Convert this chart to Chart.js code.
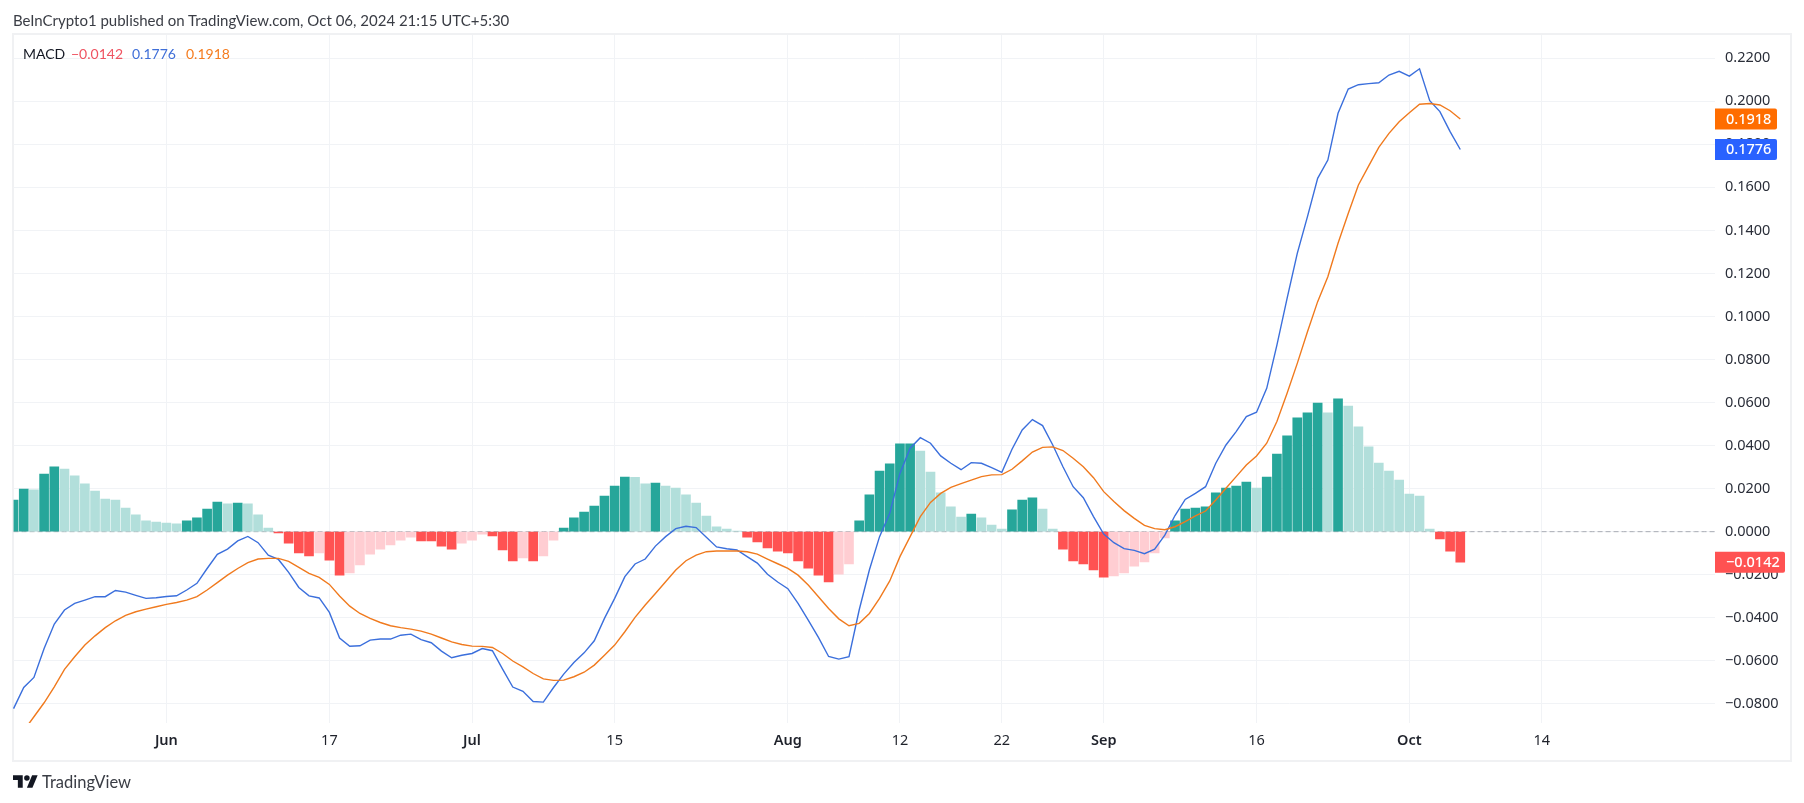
<!DOCTYPE html>
<html>
<head>
<meta charset="utf-8">
<title>MACD</title>
<script src="https://cdn.jsdelivr.net/npm/chart.js@4"></script>
<style>
  html, body { margin: 0; padding: 0; background: #fff; width: 1804px; height: 803px; overflow: hidden; }
  body { font-family: Lato, sans-serif; position: relative; }
  #frame { position: absolute; left: 12px; top: 33px; width: 1776px; height: 725px; border: 2px solid #f0f1f3; }
  #chart { position: absolute; left: 0; top: 0; }
  #published { position: absolute; left: 13px; top: 8px; font-size: 15px; line-height: 24px; color: #3a3d45; white-space: nowrap; }
  #legend span { position: absolute; top: 43px; font-size: 14px; line-height: 21px; white-space: nowrap; }
  #footer { position: absolute; left: 42px; top: 770px; font-size: 16.500px; line-height: 24px; color: #3a3d45; }
  #logo { position: absolute; left: 13px; top: 775px; }
</style>
</head>
<body>
<div id="frame"></div>
<canvas id="chart" width="1804" height="803"></canvas>
<div id="published">BeInCrypto1 published on TradingView.com, Oct 06, 2024 21:15 UTC+5:30</div>
<div id="legend">
  <span style="left:23px;color:#131722">MACD</span><span style="left:71px;color:#ef5361">−0.0142</span><span style="left:132px;color:#3f6fd8">0.1776</span><span style="left:186px;color:#f57c1f">0.1918</span>
</div>
<svg id="logo" width="25" height="13" viewBox="0 0 36 18"><path fill="#131722" d="M14 18H7V7H0V0h14v18zM28 18h-8L27.500 0h8L28 18z"/><circle fill="#131722" cx="20" cy="4" r="4"/></svg>
<div id="footer">TradingView</div>
<script>
const monthSpans = [['May', 17, 31], ['Jun', 1, 30], ['Jul', 1, 31], ['Aug', 1, 31], ['Sep', 1, 30], ['Oct', 1, 31]];

const histogram = [
  0.0147, 0.0198, 0.0194, 0.0268, 0.0301, 0.0291, 0.0259, 0.0222, 0.0189, 0.0152,
  0.0147, 0.0110, 0.0078, 0.0050, 0.0045, 0.0040, 0.0036, 0.0050, 0.0064, 0.0105,
  0.0138, 0.0129, 0.0133, 0.0129, 0.0078, 0.0017, -0.0006, -0.0053, -0.0099, -0.0113,
  -0.0099, -0.0132, -0.0202, -0.0192, -0.0155, -0.0104, -0.0081, -0.0062, -0.0039, -0.0025,
  -0.0043, -0.0043, -0.0067, -0.0081, -0.0053, -0.0039, -0.0011, -0.0020, -0.0085, -0.0136,
  -0.0122, -0.0136, -0.0113, -0.0039, 0.0017, 0.0064, 0.0091, 0.0119, 0.0166, 0.0212,
  0.0254, 0.0253, 0.0222, 0.0226, 0.0212, 0.0203, 0.0171, 0.0133, 0.0073, 0.0022,
  0.0012, 0.0002, -0.0025, -0.0048, -0.0076, -0.0090, -0.0099, -0.0136, -0.0169, -0.0202,
  -0.0234, -0.0197, -0.0150, 0.0050, 0.0171, 0.0282, 0.0315, 0.0408, 0.0408, 0.0375,
  0.0277, 0.0180, 0.0115, 0.0068, 0.0082, 0.0064, 0.0031, 0.0012, 0.0101, 0.0147,
  0.0157, 0.0105, 0.0012, -0.0081, -0.0136, -0.0150, -0.0178, -0.0211, -0.0206, -0.0192,
  -0.0160, -0.0141, -0.0099, -0.0029, 0.0050, 0.0105, 0.0110, 0.0115, 0.0180, 0.0203,
  0.0212, 0.0231, 0.0203, 0.0254, 0.0361, 0.0445, 0.0529, 0.0552, 0.0598, 0.0552,
  0.0617, 0.0584, 0.0487, 0.0394, 0.0319, 0.0282, 0.0240, 0.0175, 0.0166, 0.0012,
  -0.0034, -0.0090, -0.0142
];

const macdLine = [
  -0.0822, -0.0724, -0.0677, -0.0543, -0.0429, -0.0364, -0.0333, -0.0318, -0.0302, -0.0302,
  -0.0273, -0.0281, -0.0296, -0.0310, -0.0307, -0.0301, -0.0298, -0.0271, -0.0240, -0.0171,
  -0.0105, -0.0081, -0.0043, -0.0022, -0.0051, -0.0109, -0.0129, -0.0189, -0.0259, -0.0298,
  -0.0308, -0.0375, -0.0494, -0.0532, -0.0530, -0.0504, -0.0499, -0.0499, -0.0481, -0.0476,
  -0.0502, -0.0516, -0.0555, -0.0586, -0.0574, -0.0566, -0.0543, -0.0553, -0.0639, -0.0722,
  -0.0742, -0.0789, -0.0792, -0.0724, -0.0662, -0.0608, -0.0563, -0.0507, -0.0403, -0.0310,
  -0.0209, -0.0150, -0.0127, -0.0067, -0.0023, 0.0014, 0.0025, 0.0019, -0.0026, -0.0071,
  -0.0079, -0.0085, -0.0116, -0.0146, -0.0198, -0.0234, -0.0265, -0.0333, -0.0411, -0.0491,
  -0.0580, -0.0592, -0.0581, -0.0364, -0.0178, -0.0023, 0.0085, 0.0271, 0.0388, 0.0437,
  0.0411, 0.0352, 0.0318, 0.0288, 0.0321, 0.0318, 0.0298, 0.0276, 0.0383, 0.0473,
  0.0521, 0.0493, 0.0403, 0.0302, 0.0209, 0.0158, 0.0070, -0.0011, -0.0051, -0.0079,
  -0.0087, -0.0102, -0.0081, -0.0016, 0.0075, 0.0150, 0.0178, 0.0209, 0.0318, 0.0403,
  0.0465, 0.0535, 0.0555, 0.0666, 0.0867, 0.1084, 0.1293, 0.1464, 0.1642, 0.1727,
  0.1944, 0.2057, 0.2077, 0.2082, 0.2086, 0.2122, 0.2139, 0.2117, 0.2151, 0.2003,
  0.1952, 0.1859, 0.1776
];

const signalLine = [
  -0.0960, -0.0925, -0.0860, -0.0795, -0.0721, -0.0640, -0.0581, -0.0527, -0.0484, -0.0446,
  -0.0414, -0.0389, -0.0372, -0.0360, -0.0349, -0.0338, -0.0329, -0.0318, -0.0302, -0.0271,
  -0.0237, -0.0202, -0.0171, -0.0144, -0.0127, -0.0124, -0.0124, -0.0138, -0.0166, -0.0194,
  -0.0212, -0.0245, -0.0299, -0.0346, -0.0380, -0.0403, -0.0422, -0.0437, -0.0446, -0.0453,
  -0.0462, -0.0476, -0.0494, -0.0512, -0.0524, -0.0532, -0.0533, -0.0538, -0.0566, -0.0601,
  -0.0628, -0.0659, -0.0684, -0.0691, -0.0690, -0.0674, -0.0653, -0.0620, -0.0574, -0.0527,
  -0.0465, -0.0398, -0.0341, -0.0287, -0.0233, -0.0178, -0.0135, -0.0109, -0.0093, -0.0090,
  -0.0090, -0.0090, -0.0093, -0.0104, -0.0127, -0.0149, -0.0171, -0.0202, -0.0248, -0.0302,
  -0.0357, -0.0405, -0.0437, -0.0426, -0.0380, -0.0310, -0.0229, -0.0116, -0.0023, 0.0070,
  0.0136, 0.0178, 0.0206, 0.0223, 0.0240, 0.0256, 0.0264, 0.0265, 0.0290, 0.0329,
  0.0370, 0.0392, 0.0394, 0.0377, 0.0341, 0.0302, 0.0251, 0.0186, 0.0140, 0.0098,
  0.0062, 0.0029, 0.0014, 0.0009, 0.0023, 0.0047, 0.0073, 0.0096, 0.0147, 0.0202,
  0.0256, 0.0310, 0.0352, 0.0411, 0.0512, 0.0643, 0.0782, 0.0929, 0.1069, 0.1185,
  0.1340, 0.1479, 0.1611, 0.1699, 0.1786, 0.1851, 0.1905, 0.1947, 0.1986, 0.1990,
  0.1983, 0.1956, 0.1918
];

const yTicks = [0.22, 0.2, 0.18, 0.16, 0.14, 0.12, 0.1, 0.08, 0.06, 0.04, 0.02, 0, -0.02, -0.04, -0.06, -0.08];
const xTickDates = ['Jun 1', 'Jun 17', 'Jul 1', 'Jul 15', 'Aug 1', 'Aug 12', 'Aug 22', 'Sep 1', 'Sep 16', 'Oct 1', 'Oct 14'];
const xTickLabels = ['Jun', '17', 'Jul', '15', 'Aug', '12', '22', 'Sep', '16', 'Oct', '14'];

const categories = [];
monthSpans.forEach(([name, first, last]) => {
  for (let d = first; d <= last; d++) categories.push(name + ' ' + d);
});

const fontFamily = '"Noto Sans", sans-serif';
const gridColor = '#f1f3f6';
const xTickIndexes = xTickDates.map(d => categories.indexOf(d));

// same rule tradingview uses: darker while the bar grows away from zero
function barColor(ctx) {
  const v = histogram[ctx.dataIndex];
  const prev = ctx.dataIndex > 0 ? histogram[ctx.dataIndex - 1] : v;
  if (v >= 0) return v >= prev ? '#26a69a' : '#b2dfdb';
  return v <= prev ? '#ff5252' : '#ffcdd2';
}

const lastValueBadges = {
  id: 'lastValueBadges',
  afterDraw(chart) {
    const { ctx, scales } = chart;
    const badges = [
      { value: signalLine[signalLine.length - 1], color: '#ff6d00', width: 62 },
      { value: macdLine[macdLine.length - 1], color: '#2962ff', width: 62 },
      { value: histogram[histogram.length - 1], color: '#ff5252', width: 70 }
    ];
    ctx.save();
    badges.forEach(b => {
      const y = scales.y.getPixelForValue(b.value);
      ctx.fillStyle = b.color;
      ctx.beginPath();
      ctx.roundRect(1715, y - 10.5, b.width, 21, [0, 2, 2, 0]);
      ctx.fill();
      ctx.fillStyle = '#fff';
      ctx.font = '500 14.5px ' + fontFamily;
      ctx.textBaseline = 'middle';
      ctx.textAlign = 'left';
      ctx.fillText(b.value.toFixed(4).replace('-', '−'), 1726, y + 0.5);
    });
    ctx.restore();
  }
};

new Chart(document.getElementById('chart'), {
  type: 'bar',
  data: {
    labels: categories,
    datasets: [
      { type: 'line', label: 'Signal', data: signalLine, borderColor: '#f07a1e', borderWidth: 1.4, pointRadius: 0, tension: 0, order: 1 },
      { type: 'line', label: 'MACD', data: macdLine, borderColor: '#3b6fdc', borderWidth: 1.4, pointRadius: 0, tension: 0, order: 2 },
      { type: 'bar', label: 'Histogram', data: histogram, backgroundColor: barColor, borderWidth: 0, barThickness: 9, order: 3 },
      { type: 'line', label: 'Zero', data: categories.map(() => 0), borderColor: '#a9acb3', borderWidth: 1, borderDash: [5, 3], pointRadius: 0, order: 4 }
    ]
  },
  options: {
    responsive: false,
    animation: false,
    layout: { padding: { left: 13.55, top: 35, right: 0, bottom: 0 } },
    plugins: { legend: { display: false }, tooltip: { enabled: false }, title: { display: false } },
    scales: {
      x: {
        offset: false,
        border: { display: false },
        grid: { color: gridColor, drawTicks: false, offset: false },
        afterBuildTicks(axis) { axis.ticks = xTickIndexes.map(i => ({ value: i })); },
        afterFit(axis) { axis.height = 80; },
        ticks: {
          autoSkip: false,
          maxRotation: 0,
          padding: 9,
          color: '#1f222b',
          callback: (value) => xTickLabels[xTickIndexes.indexOf(value)],
          font: (ctx) => {
            const label = xTickLabels[xTickIndexes.indexOf(ctx.tick ? ctx.tick.value : -1)];
            return { family: fontFamily, size: 14.5, weight: /[a-z]/.test(label || '') ? '600' : '400' };
          }
        }
      },
      y: {
        position: 'right',
        min: -0.0889,
        max: 0.2308,
        border: { display: false },
        grid: { color: gridColor, drawTicks: false },
        afterBuildTicks(axis) { axis.ticks = yTicks.map(v => ({ value: v })); },
        afterFit(axis) { axis.width = 89; },
        ticks: {
          padding: 10,
          color: '#2a2e39',
          font: { family: fontFamily, size: 14.5 },
          callback: (value) => value.toFixed(4).replace('-', '−')
        }
      }
    }
  },
  plugins: [lastValueBadges]
});
</script>
</body>
</html>
